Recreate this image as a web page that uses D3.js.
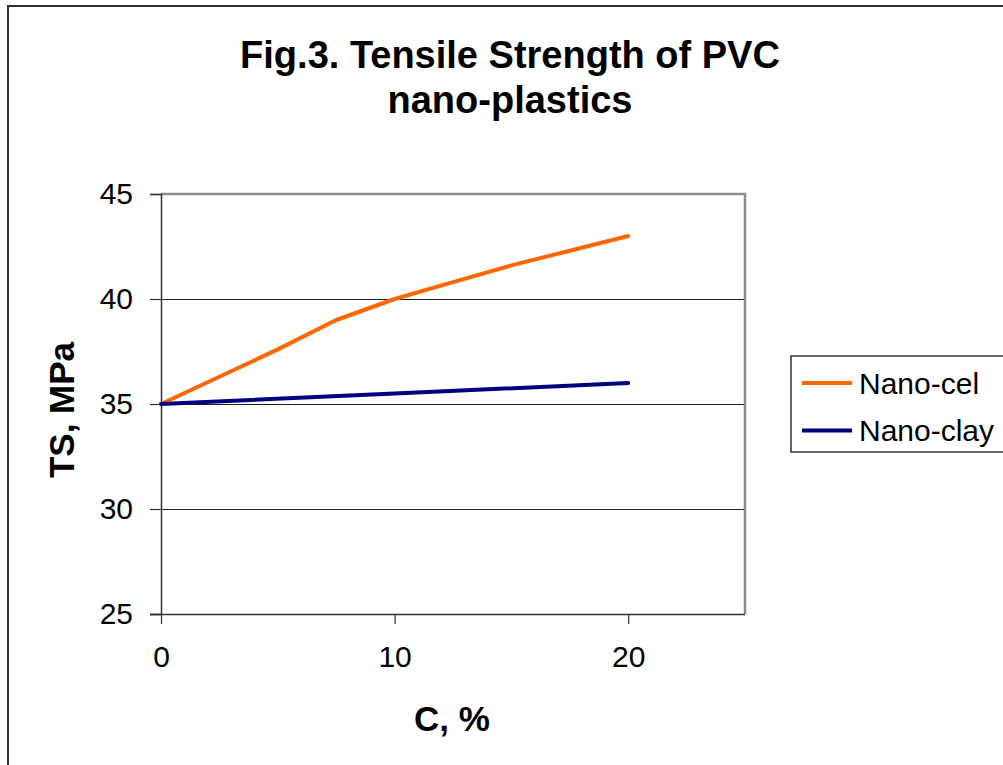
<!DOCTYPE html>
<html>
<head>
<meta charset="utf-8">
<script src="https://cdn.jsdelivr.net/npm/d3@7"></script>
<style>
  html, body { margin: 0; padding: 0; background: #fff; }
  svg { display: block; font-family: "Liberation Sans", Arial, sans-serif; }
</style>
</head>
<body>
<svg id="chart" width="1003" height="765"></svg>
<script>
const titleLines = ["Fig.3. Tensile Strength of PVC", "nano-plastics"];
const xLabel = "C, %";
const yLabel = "TS, MPa";
const seriesNames = ["Nano-cel", "Nano-clay"];
const seriesColors = ["#FF6600", "#000080"];
const celX = [0, 2.5, 5, 7.5, 10, 12.5, 15, 17.5, 20];
const celY = [35, 36.3, 37.6, 39.0, 40.0, 40.8, 41.6, 42.3, 43.0];
const clayX = [0, 10, 20];
const clayY = [35, 35.5, 36];
const xTicks = [0, 10, 20];
const yTicks = [25, 30, 35, 40, 45];

const svg = d3.select("#chart");
const plot = {left: 161, right: 745, top: 194, bottom: 614};

const x = d3.scaleLinear().domain([0, 25]).range([plot.left, plot.right]);
const y = d3.scaleLinear().domain([25, 45]).range([plot.bottom, plot.top]);

// outer frame
svg.append("rect").attr("x", 8).attr("y", 6).attr("width", 1010).attr("height", 780)
  .attr("fill", "#fff").attr("stroke", "#333").attr("stroke-width", 2);

// title
svg.append("g").selectAll("text").data(titleLines).join("text")
  .attr("x", 510).attr("y", (d, i) => 68 + i * 45)
  .attr("text-anchor", "middle").attr("font-weight", "bold").attr("font-size", 38)
  .attr("fill", "#000").text(d => d);

// gridlines
svg.append("g").selectAll("line").data(yTicks.filter(t => t > 25 && t < 45)).join("line")
  .attr("x1", plot.left).attr("x2", plot.right)
  .attr("y1", d => Math.round(y(d)) + 0.5).attr("y2", d => Math.round(y(d)) + 0.5)
  .attr("stroke", "#222").attr("stroke-width", 1.2);

// plot border top/right
svg.append("path")
  .attr("d", `M${plot.left},${plot.top}H${plot.right}V${plot.bottom}`)
  .attr("fill", "none").attr("stroke", "#8c8c8c").attr("stroke-width", 2.5);

// axes
const yAxis = d3.axisLeft(y).tickValues(yTicks).tickSize(11).tickPadding(17).tickFormat(d3.format("d"));
const gy = svg.append("g").attr("transform", `translate(${plot.left},0)`).call(yAxis);
gy.select(".domain").attr("stroke", "#333").attr("stroke-width", 1.5);
gy.selectAll(".tick line").attr("stroke", "#333").attr("stroke-width", 1.2);
gy.selectAll(".tick text").attr("font-size", 30).attr("fill", "#000")
  .attr("font-family", "Liberation Sans, Arial, sans-serif");

const xAxis = d3.axisBottom(x).tickValues(xTicks).tickSize(10).tickPadding(22).tickFormat(d3.format("d"));
const gx = svg.append("g").attr("transform", `translate(0,${plot.bottom})`).call(xAxis);
gx.select(".domain").attr("stroke", "#333").attr("stroke-width", 1.5)
  .attr("d", `M${plot.left - 11},0.5H${plot.right}`);
gx.selectAll(".tick line").attr("stroke", "#333").attr("stroke-width", 1.2);
gx.selectAll(".tick text").attr("font-size", 30).attr("fill", "#000")
  .attr("font-family", "Liberation Sans, Arial, sans-serif");

// axis titles
svg.append("text").attr("x", 452).attr("y", 731).attr("text-anchor", "middle")
  .attr("font-weight", "bold").attr("font-size", 35).text(xLabel);
svg.append("text").attr("transform", "translate(74,410) rotate(-90)").attr("text-anchor", "middle")
  .attr("font-weight", "bold").attr("font-size", 35).text(yLabel);

// lines
const line = d3.line().x(d => x(d[0])).y(d => y(d[1]));
const seriesData = [d3.zip(celX, celY), d3.zip(clayX, clayY)];
svg.append("g").selectAll("path").data(seriesData).join("path")
  .attr("d", line).attr("fill", "none")
  .attr("stroke", (d, i) => seriesColors[i]).attr("stroke-width", 4)
  .attr("stroke-linejoin", "round").attr("stroke-linecap", "round");

// legend
const lg = svg.append("g");
lg.append("rect").attr("x", 791).attr("y", 356).attr("width", 240).attr("height", 96)
  .attr("fill", "#fff").attr("stroke", "#333").attr("stroke-width", 1.5);
const items = lg.selectAll("g").data(seriesNames).join("g")
  .attr("transform", (d, i) => `translate(0,${383 + i * 47.5})`);
items.append("line").attr("x1", 802).attr("x2", 852).attr("y1", 0).attr("y2", 0)
  .attr("stroke", (d, i) => seriesColors[i]).attr("stroke-width", 4);
items.append("text").attr("x", 859).attr("y", 10.5).attr("font-size", 30).attr("fill", "#000").text(d => d);
</script>
</body>
</html>
